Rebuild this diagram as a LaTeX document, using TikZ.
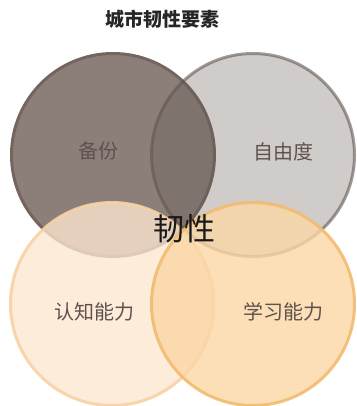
\documentclass[tikz,border=0pt]{standalone}
\usepackage{fontspec}
\newfontfamily\cjk{Noto Sans CJK SC}
\usetikzlibrary{positioning}
\definecolor{backupcol}{RGB}{120,105,99}
\definecolor{backupline}{RGB}{116,101,95}
\definecolor{freecol}{RGB}{98,85,80}
\definecolor{cogcol}{RGB}{253,231,207}
\definecolor{cogline}{RGB}{248,210,164}
\definecolor{learncol}{RGB}{251,214,165}
\definecolor{learnline}{RGB}{243,187,110}
\definecolor{lblgray}{RGB}{95,82,78}

\begin{document}
\begin{tikzpicture}[x=1pt,y=-1pt,
	ring/.style={circle,minimum size=203pt,inner sep=0pt,line width=3pt},
	lbl/.style={font=\cjk\fontsize{20}{20}\selectfont,text=lblgray}]
	\useasboundingbox (0,0) rectangle (356,406);
	\node[font=\cjk\bfseries\fontsize{19}{19}\selectfont,text=black!85] (title) at (162,19) {城市韧性要素};
	\node[ring,fill=backupcol,fill opacity=0.85,draw=backupline] (backup) at (113,155) {};
	\node[ring,fill=freecol,fill opacity=0.3,draw=freecol,draw opacity=0.6] (freedom) at (253,155) {};
	\node[ring,fill=cogcol,fill opacity=0.78,draw=cogline,draw opacity=0.9] (cognition) at (112,304) {};
	\node[ring,fill=learncol,fill opacity=0.8,draw=learnline,draw opacity=0.9] (learning) at (253,304) {};
	\node[lbl] (backuptxt) at ([xshift=-15pt,yshift=4pt]backup.center) {备份};
	\node[lbl] (freedomtxt) at ([xshift=30pt,yshift=3pt]freedom.center) {自由度};
	\node[lbl] (cogtxt) at ([xshift=-18pt,yshift=-8pt]cognition.center) {认知能力};
	\node[lbl] (learntxt) at ([xshift=30pt,yshift=-8pt]learning.center) {学习能力};
	\node[font=\cjk\fontsize{31}{31}\selectfont,text=black!90] (core) at (184,229) {韧性};
\end{tikzpicture}
\end{document}
